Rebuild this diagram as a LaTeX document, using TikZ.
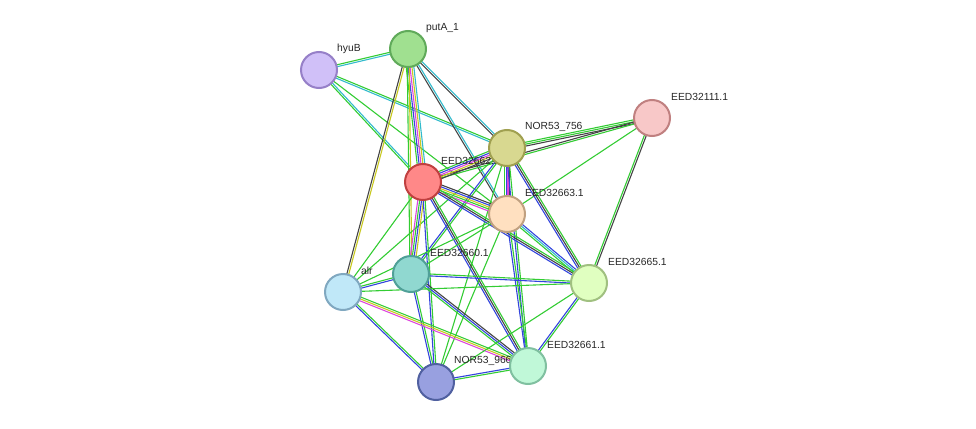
\documentclass[tikz,border=0pt]{standalone}
\usepackage{fontspec}
\setmainfont{Liberation Sans}
\usetikzlibrary{calc}
\definecolor{eg}{HTML}{33CC33}
\definecolor{eb}{HTML}{3344DD}
\definecolor{em}{HTML}{DD44DD}
\definecolor{ey}{HTML}{C8C820}
\definecolor{ec}{HTML}{33BBCC}
\definecolor{ek}{HTML}{444444}
\tikzset{nd/.style={circle,minimum size=36pt,inner sep=0pt,line width=2pt},
lb/.style={anchor=west,font=\fontsize{10.3}{11}\selectfont,text=black!85,inner sep=0pt}}
\newcommand\edge[4]{\foreach \c [count=\i] in {#4}{
 \pgfmathsetmacro\o{(\i-(#3+1)/2)*1.9}
 \draw[\c,line width=1.1pt] ($(#1)!\o pt!90:(#2)$) -- ($(#2)!\o pt!-90:(#1)$);}}
\begin{document}
\begin{tikzpicture}[x=1pt,y=-1pt]
\useasboundingbox (0,0) rectangle (976,428);
\coordinate (hy) at (319,70);
\coordinate (pu) at (408,49);
\coordinate (n7) at (507,148);
\coordinate (e1) at (652,118);
\coordinate (rd) at (423,182);
\coordinate (e3) at (507,214);
\coordinate (e0) at (411,274);
\coordinate (al) at (343,292);
\coordinate (e5) at (589,283);
\coordinate (e61) at (528,366);
\coordinate (n9) at (436,382);
\edge{hy}{pu}{2}{ec,eg}
\edge{hy}{rd}{2}{eg,ec}
\edge{hy}{n7}{2}{ec,eg}
\edge{hy}{e3}{1}{eg}
\edge{pu}{rd}{5}{eg,eb,em,ey,ec}
\edge{pu}{n7}{2}{ek,ec}
\edge{pu}{e3}{2}{ek,ec}
\edge{pu}{al}{2}{ek,ey}
\edge{pu}{e0}{2}{eg,ey}
\edge{n7}{e1}{3}{ek,eg,eg}
\edge{rd}{e1}{2}{eg,ek}
\edge{e3}{e1}{1}{eg}
\edge{e5}{e1}{2}{ek,eg}
\edge{n7}{rd}{5}{eg,eb,em,ey,ek}
\edge{n7}{e3}{4}{eg,eb,em,ek}
\edge{n7}{e0}{2}{eb,eg}
\edge{n7}{al}{1}{eg}
\edge{n7}{e5}{3}{eb,ek,eg}
\edge{n7}{e61}{2}{eb,eg}
\edge{n7}{n9}{1}{eg}
\edge{rd}{e3}{5}{em,eg,ey,eb,ek}
\edge{rd}{e0}{4}{em,eg,eb,ey}
\edge{rd}{al}{1}{eg}
\edge{rd}{e5}{3}{eb,ek,eg}
\edge{rd}{e61}{3}{eb,ek,eg}
\edge{rd}{n9}{2}{eb,eg}
\edge{e3}{e0}{1}{eg}
\edge{e3}{al}{1}{eg}
\edge{e3}{e5}{3}{eg,ec,eb}
\edge{e3}{e61}{2}{eb,eg}
\edge{e3}{n9}{1}{eg}
\edge{e0}{al}{2}{eg,eb}
\edge{e0}{e5}{2}{eb,eg}
\edge{e0}{e61}{3}{eg,eb,ek}
\edge{e0}{n9}{2}{eb,eg}
\edge{al}{e5}{1}{eg}
\edge{al}{e61}{3}{em,ey,eg}
\edge{al}{n9}{2}{eb,eg}
\edge{e5}{e61}{2}{eb,eg}
\edge{e5}{n9}{1}{eg}
\edge{e61}{n9}{2}{eb,eg}
\node[lb] (lhy) at (337,49) {hyuB};
\node[lb] (lpu) at (426,28) {putA\_1};
\node[lb] (ln7) at (525,127) {NOR53\_756};
\node[lb] (le1) at (671,97) {EED32111.1};
\node[lb] (lrd) at (441,161) {EED32662.1};
\node[lb] (le3) at (525,193) {EED32663.1};
\node[lb] (le0) at (430,253) {EED32660.1};
\node[lb] (lal) at (361,271) {alr};
\node[lb] (le5) at (608,262) {EED32665.1};
\node[lb] (le61) at (547,345) {EED32661.1};
\node[lb] (ln9) at (454,361) {NOR53\_966};
\node[nd,fill={rgb,255:red,208;green,192;blue,248},draw={rgb,255:red,150;green,128;blue,200}] (Nhy) at (hy) {};
\node[nd,fill={rgb,255:red,160;green,224;blue,144},draw={rgb,255:red,96;green,170;blue,90}] (Npu) at (pu) {};
\node[nd,fill={rgb,255:red,216;green,216;blue,144},draw={rgb,255:red,160;green,160;blue,80}] (Nn7) at (n7) {};
\node[nd,fill={rgb,255:red,248;green,200;blue,200},draw={rgb,255:red,192;green,128;blue,128}] (Ne1) at (e1) {};
\node[nd,fill={rgb,255:red,255;green,136;blue,136},draw={rgb,255:red,192;green,64;blue,64}] (Nrd) at (rd) {};
\node[nd,fill={rgb,255:red,255;green,224;blue,192},draw={rgb,255:red,192;green,160;blue,128}] (Ne3) at (e3) {};
\node[nd,fill={rgb,255:red,144;green,216;blue,208},draw={rgb,255:red,80;green,160;blue,152}] (Ne0) at (e0) {};
\node[nd,fill={rgb,255:red,192;green,232;blue,248},draw={rgb,255:red,128;green,168;blue,192}] (Nal) at (al) {};
\node[nd,fill={rgb,255:red,224;green,255;blue,192},draw={rgb,255:red,160;green,192;blue,128}] (Ne5) at (e5) {};
\node[nd,fill={rgb,255:red,192;green,248;blue,216},draw={rgb,255:red,128;green,192;blue,160}] (Ne61) at (e61) {};
\node[nd,fill={rgb,255:red,152;green,160;blue,224},draw={rgb,255:red,80;green,96;blue,160}] (Nn9) at (n9) {};
\end{tikzpicture}
\end{document}
